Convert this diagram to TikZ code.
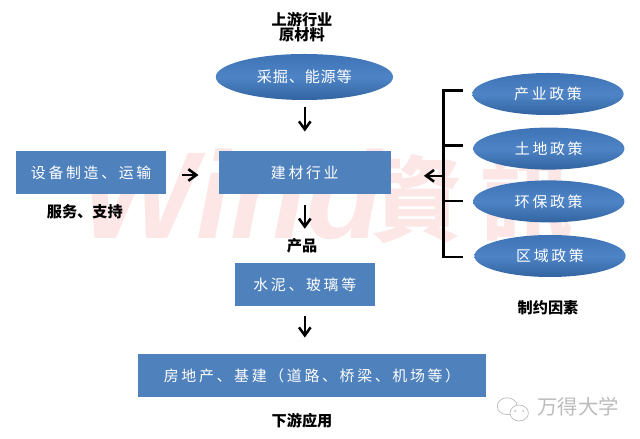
\documentclass[tikz,border=0pt]{standalone}
\usepackage{fontspec}
\setmainfont{Noto Sans CJK SC}
\newfontfamily\boxfont[LetterSpace=18]{Noto Sans CJK SC}
\newfontfamily\tightfont[LetterSpace=5]{Noto Sans CJK SC}
\newfontfamily\markfont{Liberation Sans}
\newfontfamily\markcjk{Noto Sans CJK TC}
\usetikzlibrary{arrows.meta,backgrounds,shapes.geometric}
\definecolor{cBox}{RGB}{79,129,189}
\definecolor{cOvalTop}{RGB}{62,115,182}
\definecolor{cOvalMid}{RGB}{78,132,198}
\definecolor{cOvalLow}{RGB}{50,100,160}
\definecolor{cMark}{RGB}{252,230,230}
\definecolor{cLogo}{RGB}{188,188,188}

\begin{document}
\begin{tikzpicture}[
  >={Straight Barb[length=2mm,width=2.9mm]},
  blk/.style={draw=none,fill=cBox,text=white,inner sep=0pt,font=\boxfont\fontsize{10.6pt}{12pt}\selectfont},
  oval/.style={ellipse,top color=cOvalTop,bottom color=cOvalLow,middle color=cOvalMid,
               text=white,inner sep=0pt,minimum width=3.78cm,minimum height=1.05cm,
               font=\boxfont\fontsize{10.6pt}{12pt}\selectfont},
  arr/.style={->,line width=1.8pt},
  rail/.style={line width=1.9pt},
  lab/.style={font=\bfseries\fontsize{10.8pt}{11pt}\selectfont,align=center,inner sep=0pt},
  wm/.style={text=cMark,inner sep=0pt},
]
\useasboundingbox (0,0) rectangle (16,10.975);

% ------------------------------------------------------------------ main column
\node[oval,minimum width=4.43cm,minimum height=1.15cm,font=\tightfont\fontsize{10.8pt}{12pt}\selectfont] (raw) at (7.61,9.05) {采掘、能源等};
\node[blk,minimum width=4.3cm,minimum height=1.08cm]  (ind)  at (7.62,6.66)  {建材行业};
\node[blk,minimum width=3.75cm,minimum height=1.08cm] (eqp)  at (2.28,6.66)  {设备制造、运输};
\node[blk,minimum width=3.5cm,minimum height=1.08cm]  (prod) at (7.62,3.86)  {水泥、玻璃等};
\node[blk,minimum width=8.7cm,minimum height=1.08cm]  (use)  at (7.8,1.59)   {房地产、基建（道路、桥梁、机场等）};

% ------------------------------------------------------------------ policy ovals
\node[oval] (p1) at (13.7,8.625)  {产业政策};
\node[oval] (p2) at (13.72,7.26)  {土地政策};
\node[oval] (p3) at (13.72,5.94)  {环保政策};
\node[oval] (p4) at (13.75,4.575) {区域政策};

% ------------------------------------------------------------------ labels
\node[lab] (lup)   at (7.55,10.3)  {上游行业\\[0pt]原材料};
\node[lab] (lsvc)  at (2.12,5.67)  {服务、支持};
\node[lab] (lprod) at (7.55,4.82)  {产品};
\node[lab] (llim)  at (13.7,3.27)  {制约因素};
\node[lab] (ldown) at (7.55,0.45)  {下游应用};

% ------------------------------------------------------------------ main flow
\draw[arr,shorten <=0.17cm,shorten >=0.48cm] (raw.south -| ind.north) -- (ind.north);
\draw[arr,shorten <=0.38cm,shorten >=0.5cm]  (eqp.east |- 0,6.6) -- (ind.west |- 0,6.6);
\draw[arr,shorten <=0.27cm,shorten >=0.85cm] (ind.south) -- (prod.north);
\draw[arr,shorten <=0.25cm,shorten >=0.4cm]  (prod.south) -- (prod.south |- use.north);

% ------------------------------------------------- bracket from the policy ovals
\coordinate (rail) at (11.08,6.58);
\draw[rail] (11.58,8.72) -- (11.08,8.72) -- (11.08,4.55) -- (11.58,4.55);
\draw[rail] (11.08,7.33) -- (11.58,7.33);
\draw[rail] (11.08,5.95) -- (11.58,5.95);
\draw[arr,shorten >=0.82cm] (rail) -- (ind.east |- rail);

% ------------------------------------------------- watermark behind everything
\begin{scope}[on background layer]
  \node[wm,anchor=base west,font=\markfont\bfseries\itshape\fontsize{88pt}{88pt}\selectfont] (wind) at (2.0,5.0) {Wind};
  \node[wm,anchor=west,font=\markcjk\bfseries\fontsize{66pt}{66pt}\selectfont] (zi) at (9.25,6.0) {資};
  \node[wm,anchor=west,font=\markcjk\bfseries\fontsize{66pt}{66pt}\selectfont] (xun) at (12,6.0) {訊};
\end{scope}

% ------------------------------------------------------------------ logo
\node[text=cLogo,inner sep=0pt,font=\fontsize{14.5pt}{15pt}\selectfont] (logo) at (14.45,0.8) {万得大学};
\draw[cLogo,line width=0.5pt] (12.68,0.82) ellipse (0.25 and 0.21);
\draw[cLogo,line width=0.5pt,fill=white] (12.98,0.65) ellipse (0.23 and 0.2);
\fill[cLogo] (12.88,0.7) circle (0.025) (13.08,0.7) circle (0.025);
\end{tikzpicture}
\end{document}
